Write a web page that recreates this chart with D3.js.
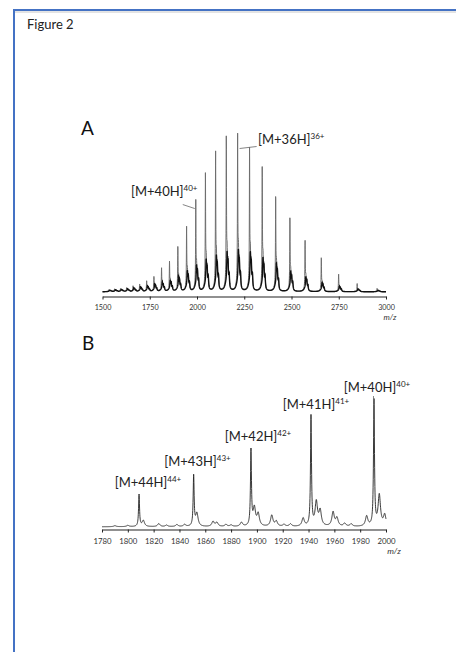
<!DOCTYPE html>
<html>
<head>
<meta charset="utf-8">
<script src="https://cdn.jsdelivr.net/npm/d3@7"></script>
<style>
    body { margin: 0; background: #fff; }
    svg { display: block; }
    text { font-family: Lato, "Open Sans", sans-serif; }
</style>
</head>
<body>
<svg id="fig" width="456" height="652"></svg>
<script>
// Panel A - full charge state envelope (m/z of each charge state, relative intensity)
var mzA = [1533.7, 1563.7, 1595.0, 1627.5, 1661.4, 1696.7, 1733.6, 1772.1, 1812.4, 1854.5,
    1898.6, 1944.9, 1993.5, 2044.6, 2098.4, 2155.1, 2214.9, 2278.1, 2345.1, 2416.2,
    2491.6, 2571.9, 2657.7, 2749.3, 2847.4, 2952.9];
var intA = [1, 1.5, 1.5, 2, 3, 4, 6, 8.5, 14, 18,
    27.5, 40, 57, 75, 89, 99, 100, 91, 79, 61,
    46.5, 32, 22, 11, 5, 2];
// adduct / tailing hump under each peak
var adductA = [0.8, 1, 1.2, 1.5, 2, 2.5, 3, 4, 5, 6,
    8, 11, 14, 17, 19, 21, 22, 21, 18, 15,
    11, 8, 5, 3, 1.5, 0.8];
var adductOffA = [4, 9, 15];      // m/z offset of adduct peaks after each charge state
var adductRelA = [1, 0.75, 0.45]; // their share of the hump
var ticksA = [1500, 1750, 2000, 2250, 2500, 2750, 3000];
var labelTextA = ["[M+40H]", "[M+36H]"];
var labelSupA = ["40+", "36+"];
var labelMzA = [1993.5, 2214.9];

// Panel B - zoom on 1780-2000
var mzB = [1808.7, 1851.0, 1895.4, 1941.9, 1990.7];
var intB = [25.5, 40, 60, 87.6, 100];
var satMzB = [1790, 1800, 1812, 1824, 1830, 1838, 1844, 1853.5, 1866, 1869, 1876, 1880, 1888,
    1898, 1901, 1911.5, 1915, 1921, 1926, 1935.8, 1946, 1949, 1959, 1962, 1968, 1973,
    1985, 1994.8, 1999];
var satIntB = [0.8, 1, 4.8, 2.4, 1.2, 1.6, 1.6, 10.4, 4, 3.2, 1.6, 1.2, 3.2,
    14.3, 9.6, 8.8, 4, 1.6, 2, 6.4, 19, 12, 11.2, 6.4, 2.4, 2,
    8, 24.7, 8.8];
var ticksB = [1780, 1800, 1820, 1840, 1860, 1880, 1900, 1920, 1940, 1960, 1980, 2000];
var labelTextB = ["[M+44H]", "[M+43H]", "[M+42H]", "[M+41H]", "[M+40H]"];
var labelSupB = ["44+", "43+", "42+", "41+", "40+"];

var svg = d3.select("#fig");

// page frame
svg.append("line").attr("x1", 14).attr("y1", 12).attr("x2", 456).attr("y2", 12)
    .attr("stroke", "#c8c8c8").attr("stroke-width", 1);
svg.append("line").attr("x1", 14).attr("y1", 10).attr("x2", 456).attr("y2", 10)
    .attr("stroke", "#4472c4").attr("stroke-width", 2);
svg.append("line").attr("x1", 14).attr("y1", 9).attr("x2", 14).attr("y2", 652)
    .attr("stroke", "#4472c4").attr("stroke-width", 2);

svg.append("text").attr("x", 27).attr("y", 29)
    .attr("font-size", "13px").attr("fill", "#222").text("Figure 2");

function lorentz(d, w) {
    return w * w / (d * d + w * w);
}

function drawAxis(g, x, ticks, y0, fontSize, pad) {
    var axis = d3.axisBottom(x).tickValues(ticks).tickSize(3).tickSizeOuter(0)
        .tickPadding(pad).tickFormat(d3.format("d"));
    var a = g.append("g").attr("transform", "translate(0," + y0 + ")").call(axis);
    a.select(".domain").attr("stroke", "#222").attr("stroke-width", 1.2);
    a.selectAll(".tick line").attr("stroke", "#222");
    a.selectAll(".tick text").attr("fill", "#333").attr("font-size", fontSize)
        .attr("font-family", "Lato, sans-serif");
    return a;
}

function addLabel(g, x, y, txt, sup, anchor) {
    var t = g.append("text").attr("x", x).attr("y", y)
        .attr("font-size", "13px").attr("fill", "#222").attr("text-anchor", anchor || "start");
    t.append("tspan").text(txt);
    t.append("tspan").attr("font-size", "8px").attr("dy", -5).text(sup);
    return t;
}

// ---------- Panel A ----------
var gA = svg.append("g");
var xA = d3.scaleLinear().domain([1500, 3000]).range([102.5, 386]);
var yA = d3.scaleLinear().domain([0, 100]).range([293.5, 151.5]);

var profA = [], humpA = [];
for (var m = 1500; m <= 3000; m += 0.5) {
    var h = 1.2, v = 0;
    for (var i = 0; i < mzA.length; i++) {
        v += intA[i] * lorentz(m - mzA[i], 1.1);
        for (var k = 0; k < adductOffA.length; k++)
            h += adductA[i] * adductRelA[k] * lorentz(m - mzA[i] - adductOffA[k], 2.2);
        h += adductA[i] * 0.25 * lorentz(m - mzA[i], 9);
    }
    profA.push([m, v + h]);
    humpA.push([m, h]);
}
var lineA = d3.line().x(d => xA(d[0])).y(d => yA(d[1]));
gA.append("path").datum(profA)
    .attr("fill", "none").attr("stroke", "#6e6e6e").attr("stroke-width", 1)
    .attr("d", lineA);
gA.append("path").datum(humpA)
    .attr("fill", "none").attr("stroke", "#111").attr("stroke-width", 1.4)
    .attr("d", lineA);

drawAxis(gA, xA, ticksA, 296.5, "7.2px", 5);
gA.append("text").attr("x", 390).attr("y", 320).attr("text-anchor", "middle")
    .attr("font-size", "8px").attr("font-style", "italic").attr("fill", "#333").text("m/z");

gA.append("text").attr("x", 81).attr("y", 135).attr("font-size", "19px").attr("fill", "#111").text("A");

// labels + leader lines
var p40 = [xA(labelMzA[0]), yA(intA[mzA.indexOf(labelMzA[0])])];
var p36 = [xA(labelMzA[1]), yA(intA[mzA.indexOf(labelMzA[1])])];
gA.append("line").attr("x1", p40[0] - 1).attr("y1", p40[1] - 4).attr("x2", p40[0] - 13).attr("y2", p40[1] - 8)
    .attr("stroke", "#666").attr("stroke-width", 0.8);
gA.append("line").attr("x1", p36[0] + 2).attr("y1", p36[1] - 3).attr("x2", p36[0] + 19).attr("y2", p36[1] - 5)
    .attr("stroke", "#666").attr("stroke-width", 0.8);
addLabel(gA, 131, 196, labelTextA[0], labelSupA[0]);
addLabel(gA, 258, 144, labelTextA[1], labelSupA[1]);

// ---------- Panel B ----------
var gB = svg.append("g");
var xB = d3.scaleLinear().domain([1780, 2000]).range([102, 386]);
var yB = d3.scaleLinear().domain([0, 100]).range([527.5, 402]);

var profB = [];
for (var m = 1780; m <= 2000; m += 0.1) {
    var v = 0.6;
    for (var i = 0; i < mzB.length; i++) v += intB[i] * lorentz(m - mzB[i], 0.45);
    for (var j = 0; j < satMzB.length; j++) v += satIntB[j] * lorentz(m - satMzB[j], 1.1);
    profB.push([m, v]);
}
gB.append("path").datum(profB)
    .attr("fill", "none").attr("stroke", "#222").attr("stroke-width", 0.9)
    .attr("d", d3.line().x(d => xB(d[0])).y(d => yB(d[1])));

drawAxis(gB, xB, ticksB, 529.5, "7.8px", 6);
gB.append("text").attr("x", 394).attr("y", 554).attr("text-anchor", "middle")
    .attr("font-size", "8.5px").attr("font-style", "italic").attr("fill", "#333").text("m/z");

gB.append("text").attr("x", 82).attr("y", 350).attr("font-size", "19px").attr("fill", "#111").text("B");

var labPosB = [[148, 487], [197.5, 466], [258, 441], [316, 409], [377, 392]];
labPosB.forEach(function (p, i) {
    addLabel(gB, p[0], p[1], labelTextB[i], labelSupB[i], "middle");
});
var top40 = yB(intB[4]);
gB.append("line").attr("x1", xB(mzB[4]) - 0.5).attr("y1", 396).attr("x2", xB(mzB[4]) - 0.5).attr("y2", top40 - 1)
    .attr("stroke", "#666").attr("stroke-width", 0.8);
</script>
</body>
</html>
